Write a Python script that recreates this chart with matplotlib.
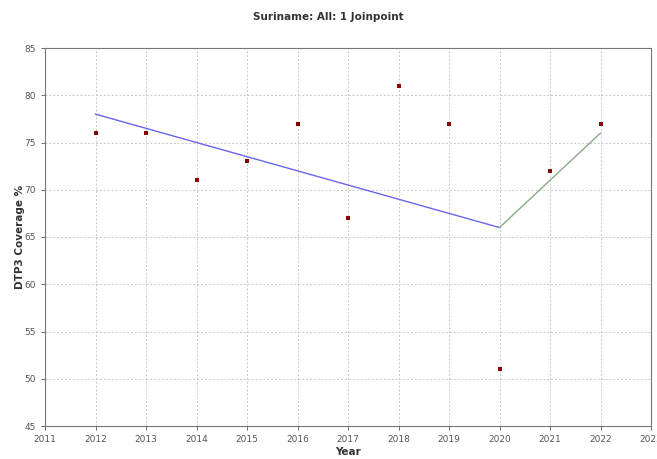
import matplotlib
matplotlib.use("Agg")
import matplotlib.pyplot as plt

years = [2012, 2013, 2014, 2015, 2016, 2017, 2018, 2019, 2020, 2021, 2022]
coverage = [76, 76, 71, 73, 77, 67, 81, 77, 51, 72, 77]
seg1_x = [2012, 2020]
seg1_y = [78.0, 66.0]
seg2_x = [2020, 2022]
seg2_y = [66.0, 76.0]
xticks = list(range(2011, 2024))
yticks = list(range(45, 90, 5))

fig = plt.figure(figsize=(6.57, 4.59), dpi=100)
ax = fig.add_axes([45/657, 1-426/459, (651-45)/657, (426-48)/459])

ax.plot(seg1_x, seg1_y, color="#6666ee", lw=1.0, zorder=3)
ax.plot(seg2_x, seg2_y, color="#88aa88", lw=1.0, zorder=3)
ax.scatter(years, coverage, marker="s", s=10, color="#8b0000", zorder=4, linewidths=0)

ax.set_xlim(2011, 2023)
ax.set_ylim(45, 85)
ax.set_xticks(xticks)
ax.set_yticks(yticks)
ax.set_xticklabels([str(x) for x in xticks])
ax.grid(True, color="#c8c8c8", linestyle=(0, (2, 2)), linewidth=0.7)
ax.tick_params(axis="both", labelsize=6.5, colors="#555555", length=3, width=0.6)
for sp in ax.spines.values():
    sp.set_color("#777777")
    sp.set_linewidth(0.8)
for lbl in ax.get_xticklabels():
    lbl.set_clip_on(False)

ax.set_xlabel("Year", fontsize=7.5, fontweight="bold", color="#333333")
ax.set_ylabel("DTP3 Coverage %", fontsize=7.5, fontweight="bold", color="#333333")
ax.xaxis.set_label_coords(0.5, -(447 - 426) / 378)
ax.yaxis.set_label_coords(-(45 - 25) / 606, 0.5)
fig.text(0.5, 1-17/459, "Suriname: All: 1 Joinpoint", ha="center", va="center",
         fontsize=7.5, fontweight="bold", color="#333333")

fig.savefig("out.png", dpi=100)
